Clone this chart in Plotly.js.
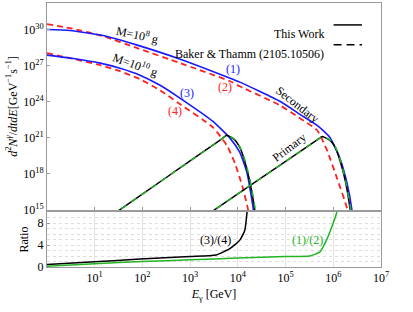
<!DOCTYPE html>
<html><head><meta charset="utf-8">
<script src="https://cdn.plot.ly/plotly-3.0.1.min.js"></script>
<style>html,body{margin:0;padding:0;background:#fff}#chart{width:413px;height:312px}</style>
</head><body><div id="chart"></div><script>
// ---- Secondary spectra, M = 1e8 g ----
const secE1 = [1, 3, 15, 78, 620, 6900, 1.1e4, 7.6e4, 2e5, 4.6e5, 8.5e5, 1.38e6, 1.95e6, 2.45e6, 2.57e6];
const secN1 = [1e30, 8.3e29, 3.2e29, 5e28, 3.4e27, 8.9e25, 4.2e25, 1.07e24, 8.9e22, 1.07e22, 1.07e21, 1.9e19, 1.6e17, 1.07e15, 1e14];
const bakE2 = [1, 3, 15, 78, 620, 6900, 1.1e4, 7.6e4, 2e5, 4.6e5, 7.4e5, 1.2e6, 1.95e6, 2.05e6];
const bakN2 = [2.8e30, 1.3e30, 2.8e29, 2.8e28, 1.6e27, 5e25, 1.9e25, 5e23, 4.2e22, 4.2e21, 8.9e19, 4.2e17, 1.3e15, 1e14];
// ---- Secondary spectra, M = 1e10 g ----
const secE3 = [1, 3, 13, 34, 89, 234, 620, 3000, 6900, 1.1e4, 1.55e4, 2.1e4, 2.2e4];
const secN3 = [7.4e27, 4.2e27, 1.6e27, 6e26, 1.6e26, 2.3e25, 1.9e24, 2.3e22, 8.9e20, 6e19, 1.3e18, 1.3e15, 1e14];
const bakE4 = [1, 3, 13, 34, 89, 234, 620, 3000, 5900, 8700, 1.23e4, 1.62e4, 1.74e4];
const bakN4 = [1.07e28, 4.2e27, 1.07e27, 3.4e26, 7.4e25, 8.9e24, 6e23, 7.4e21, 2.3e20, 7.4e18, 1.07e17, 1.3e15, 1e14];
// ---- Primary spectra, M = 1e8 g ----
const priE1 = [1400, 3300, 3.16e4, 2e5, 4.5e5, 5.9e5, 8.5e5, 1.1e6, 1.38e6, 1.78e6, 2.24e6, 2.4e6];
const priN1 = [1e14, 1.07e15, 4.8e17, 7.1e19, 6.3e20, 1.3e21, 6e20, 1.6e20, 1.3e19, 2.8e17, 1.3e15, 1e14];
const bakPE1 = [1400, 3300, 3.16e4, 2e5, 4.5e5, 5.9e5, 8.3e5, 1.1e6, 1.4e6, 1.8e6, 2.3e6, 2.45e6];
const bakPN1 = [1e14, 1.07e15, 4.8e17, 7.1e19, 6.3e20, 1.3e21, 7e20, 1.8e20, 1.5e19, 3e17, 1.3e15, 1e14];
// ---- Primary spectra, M = 1e10 g ----
const priE3 = [14, 34, 316, 2000, 4470, 5900, 8500, 1.1e4, 1.38e4, 1.78e4, 2.24e4, 2.4e4];
const priN3 = [1e14, 1.07e15, 5e17, 8e19, 7.4e20, 1.6e21, 7e20, 1.6e20, 1.3e19, 2.5e17, 1.3e15, 1e14];
const bakPE3 = [14, 34, 316, 2000, 4470, 5900, 8300, 1.1e4, 1.4e4, 1.8e4, 2.3e4, 2.45e4];
const bakPN3 = [1e14, 1.07e15, 5e17, 8e19, 7.4e20, 1.6e21, 8e20, 1.8e20, 1.5e19, 3e17, 1.3e15, 1e14];
// ---- Ratios ----
const r34E = [1, 10, 89, 1000, 3500, 6900, 1.1e4, 1.4e4, 1.55e4, 1.65e4];
const r34 = [0.45, 0.95, 1.45, 1.9, 2.2, 3.4, 4.9, 6.7, 9.8, 12];
const r12E = [1, 10, 100, 1000, 1e4, 1e5, 3.2e5, 5.2e5, 7.2e5, 9.3e5, 1.17e6, 1.3e6];
const r12 = [0.15, 0.6, 1.0, 1.3, 1.65, 1.9, 2.0, 2.7, 4.9, 7.3, 9.8, 11.5];
// ---- Ticks ----
const xTickVals = [10, 100, 1e3, 1e4, 1e5, 1e6, 1e7];
const xTickText = ['10<sup>1</sup>','10<sup>2</sup>','10<sup>3</sup>','10<sup>4</sup>','10<sup>5</sup>','10<sup>6</sup>','10<sup>7</sup>'];
const yTickVals = [1e15, 1e18, 1e21, 1e24, 1e27, 1e30];
const yTickText = ['10<sup>15</sup>','10<sup>18</sup>','10<sup>21</sup>','10<sup>24</sup>','10<sup>27</sup>','10<sup>30</sup>'];
const rTickVals = [0, 4, 8];

const BLUE = '#1a1aff', RED = '#ff2020', GREEN = '#22b422', BLACK = '#000';
function tr(x, y, color, dash, w, xa, ya) {
  return {x: x, y: y, type: 'scatter', mode: 'lines', xaxis: xa, yaxis: ya,
    line: {color: color, width: w, dash: dash, shape: 'spline', smoothing: 0.5}, hoverinfo: 'skip'};
}
const data = [
  tr(bakE2, bakN2, RED, '6px,4px', 1.8, 'x2', 'y'),
  tr(bakE4, bakN4, RED, '6px,4px', 1.8, 'x2', 'y'),
  tr(secE1, secN1, BLUE, 'solid', 1.6, 'x2', 'y'),
  tr(secE3, secN3, BLUE, 'solid', 1.6, 'x2', 'y'),
  tr(priE1, priN1, BLACK, 'solid', 1.5, 'x2', 'y'),
  tr(priE3, priN3, BLACK, 'solid', 1.5, 'x2', 'y'),
  tr(bakPE1, bakPN1, GREEN, '6px,6px', 1.5, 'x2', 'y'),
  tr(bakPE3, bakPN3, GREEN, '6px,6px', 1.5, 'x2', 'y'),
  tr(r34E, r34, BLACK, 'solid', 1.5, 'x', 'y2'),
  tr(r12E, r12, GREEN, 'solid', 1.5, 'x', 'y2')
];
const FONT = 'Liberation Serif, Times New Roman, serif';
const AX = '#9a9a9a';
function ann(x, y, text, color, angle, xref, yref) {
  return {x: x, y: y, xref: xref || 'x2', yref: yref || 'y', text: text, showarrow: false,
    font: {family: FONT, size: 12, color: color}, textangle: angle || 0};
}
const layout = {
  width: 413, height: 312,
  margin: {l: 47, r: 32, t: 3, b: 45, pad: 0},
  paper_bgcolor: '#fff', plot_bgcolor: '#fff', showlegend: false,
  font: {family: FONT, size: 12, color: '#000'},
  xaxis: {type: 'log', range: [0, 7], anchor: 'y2', domain: [0, 1],
    tickmode: 'array', tickvals: xTickVals, ticktext: xTickText, ticks: '',
    showgrid: true, gridcolor: '#e2e2e2', gridwidth: 1, zeroline: false,
    showline: true, mirror: true, linecolor: AX, linewidth: 1,
    tickfont: {family: FONT, size: 12, color: '#000'},
    title: {text: '<i>E</i><sub>γ</sub> [GeV]', font: {family: FONT, size: 12}, standoff: 5}},
  xaxis2: {type: 'log', range: [0, 7], anchor: 'y', domain: [0, 1],
    tickmode: 'array', tickvals: xTickVals, ticks: 'inside', ticklen: 3, tickcolor: AX,
    showticklabels: false, showgrid: false, zeroline: false,
    showline: true, mirror: true, linecolor: AX, linewidth: 1},
  yaxis: {type: 'log', range: [15, 32.2], anchor: 'x2', domain: [0.216, 1],
    tickmode: 'array', tickvals: yTickVals, ticktext: yTickText, ticks: 'inside', ticklen: 3, tickcolor: AX,
    showgrid: false, zeroline: false, showline: true, mirror: true, linecolor: AX, linewidth: 1,
    tickfont: {family: FONT, size: 12, color: '#000'},
    title: {text: '<i>d</i><sup>2</sup><i>N</i><sup><i>γ</i></sup>/<i>dtdE</i>[GeV<sup>−1</sup>s<sup>−1</sup>]',
      font: {family: FONT, size: 12}, standoff: 3}},
  yaxis2: {range: [0, 10], anchor: 'x', domain: [0, 0.208],
    tickmode: 'array', tickvals: rTickVals, ticks: 'inside', ticklen: 3, tickcolor: AX,
    showgrid: true, gridcolor: '#dedede', griddash: '3px,3px',
    minor: {tickmode: 'linear', tick0: 0, dtick: 1, showgrid: true, gridcolor: '#dedede', griddash: '3px,3px', ticks: ''},
    zeroline: false, showline: true, mirror: true, linecolor: AX, linewidth: 1,
    tickfont: {family: FONT, size: 12, color: '#000'},
    title: {text: 'Ratio', font: {family: FONT, size: 12}, standoff: 6}},
  annotations: [
    ann(1.89, 29.62, 'M=10<sup>8</sup> g', '#000', 12),
    ann(1.86, 27.1, 'M=10<sup>10</sup> g', '#000', 20),
    ann(3.9, 26.7, '(1)', BLUE),
    ann(3.73, 25.2, '(2)', RED),
    ann(2.94, 24.7, '(3)', BLUE),
    ann(2.68, 23.2, '(4)', RED),
    ann(5.26, 23.72, 'Secondary', '#000', 38),
    ann(5.09, 20.2, 'Primary', '#000', -37),
    ann(3.54, 4.9, '(3)/(4)', '#000', 0, 'x', 'y2'),
    ann(5.45, 4.9, '(1)/(2)', GREEN, 0, 'x', 'y2'),
    {x: 0.835, y: 0.917, xref: 'paper', yref: 'paper', xanchor: 'right', text: 'This Work', showarrow: false,
      font: {family: FONT, size: 12, color: '#000'}},
    {x: 0.835, y: 0.842, xref: 'paper', yref: 'paper', xanchor: 'right', text: 'Baker &amp; Thamm (2105.10506)', showarrow: false,
      font: {family: FONT, size: 12, color: '#000'}}
  ],
  shapes: [
    {type: 'line', xref: 'paper', yref: 'paper', x0: 0.858, x1: 0.943, y0: 0.917, y1: 0.917, line: {color: '#000', width: 1.5}},
    {type: 'line', xref: 'paper', yref: 'paper', x0: 0.858, x1: 0.943, y0: 0.842, y1: 0.842, line: {color: '#000', width: 1.5, dash: '8px,5px'}}
  ]
};
Plotly.newPlot('chart', data, layout, {staticPlot: true, displayModeBar: false});
</script></body></html>
